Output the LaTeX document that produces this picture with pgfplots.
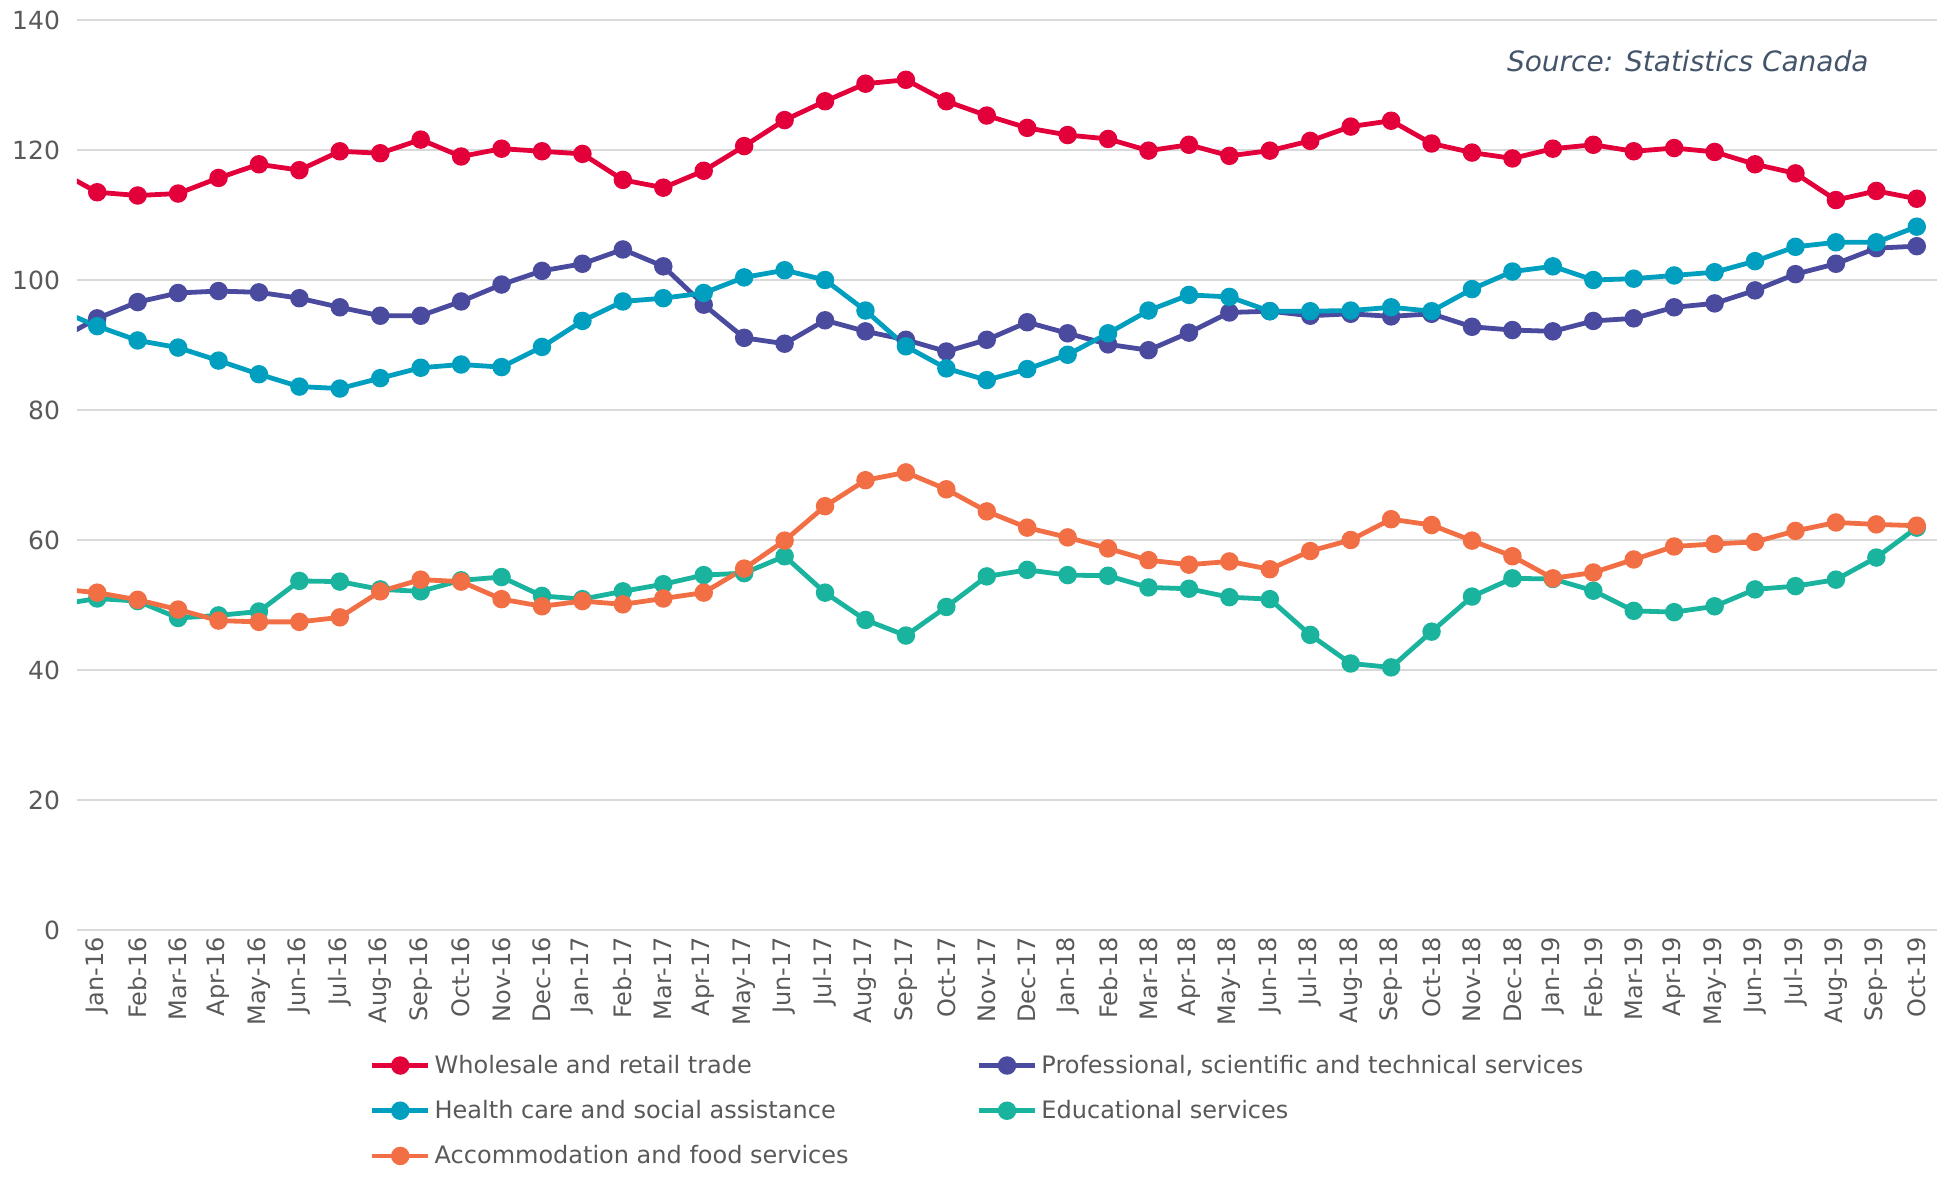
\documentclass[border=0pt]{standalone}
\usepackage{pgfplots}
\usepackage{pgfplotstable}
\pgfplotsset{compat=1.18}
\usepackage{fontspec}
\setmainfont{DejaVu Sans}
\definecolor{cRed}{HTML}{E3003A}
\definecolor{cPur}{HTML}{4A4A9F}
\definecolor{cHea}{HTML}{009FC0}
\definecolor{cEdu}{HTML}{1AB39E}
\definecolor{cAcc}{HTML}{F26F45}
\definecolor{cTxt}{HTML}{595959}
\definecolor{cSrc}{HTML}{44546A}
\definecolor{cGrid}{HTML}{D9D9D9}
\pgfplotstableread{
x r p h e a
-1 116.9 90.7 95.5 50.0 52.5
0 113.5 94.1 92.9 51.0 51.9
1 113.0 96.6 90.7 50.6 50.8
2 113.3 98.0 89.6 48.0 49.3
3 115.7 98.3 87.6 48.4 47.6
4 117.8 98.1 85.5 49.0 47.4
5 116.9 97.2 83.6 53.7 47.4
6 119.8 95.8 83.3 53.6 48.1
7 119.5 94.5 84.9 52.4 52.1
8 121.6 94.5 86.5 52.1 53.9
9 119.0 96.7 87.0 53.8 53.6
10 120.2 99.3 86.6 54.3 50.9
11 119.8 101.4 89.7 51.4 49.8
12 119.4 102.5 93.7 50.9 50.6
13 115.4 104.7 96.7 52.1 50.1
14 114.2 102.1 97.2 53.2 51.0
15 116.8 96.2 98.0 54.6 51.9
16 120.6 91.1 100.4 54.9 55.6
17 124.6 90.2 101.5 57.5 59.9
18 127.5 93.8 100.0 51.9 65.2
19 130.2 92.1 95.3 47.7 69.2
20 130.8 90.8 89.8 45.3 70.4
21 127.5 89.0 86.4 49.7 67.8
22 125.3 90.8 84.6 54.4 64.4
23 123.4 93.5 86.3 55.4 61.9
24 122.3 91.8 88.5 54.6 60.4
25 121.7 90.1 91.8 54.5 58.7
26 119.9 89.2 95.3 52.7 56.9
27 120.8 91.9 97.7 52.5 56.2
28 119.1 95.0 97.4 51.2 56.7
29 119.9 95.2 95.2 50.9 55.5
30 121.4 94.5 95.2 45.4 58.3
31 123.6 94.8 95.3 41.0 60.0
32 124.5 94.4 95.8 40.4 63.2
33 121.0 94.8 95.2 45.9 62.3
34 119.6 92.8 98.6 51.3 59.9
35 118.7 92.3 101.3 54.1 57.5
36 120.2 92.1 102.1 54.0 54.1
37 120.8 93.7 100.0 52.2 55.0
38 119.8 94.1 100.2 49.1 57.0
39 120.3 95.8 100.7 48.9 59.0
40 119.7 96.4 101.2 49.8 59.4
41 117.8 98.4 102.9 52.4 59.7
42 116.4 100.9 105.1 52.9 61.4
43 112.3 102.5 105.8 53.9 62.7
44 113.7 104.9 105.8 57.3 62.4
45 112.5 105.2 108.2 61.9 62.2
}\data
\begin{document}
\begin{tikzpicture}
\useasboundingbox (-38.5pt,-129pt) rectangle (936.5pt,465pt);
\begin{axis}[
  scale only axis,
  width=930pt, height=455pt,
  xmin=-0.5, xmax=45.5,
  ymin=0, ymax=140,
  ytick={0,20,...,140},
  xtick={0,...,45},
  xticklabels={Jan-16,Feb-16,Mar-16,Apr-16,May-16,Jun-16,Jul-16,Aug-16,Sep-16,Oct-16,Nov-16,Dec-16,
    Jan-17,Feb-17,Mar-17,Apr-17,May-17,Jun-17,Jul-17,Aug-17,Sep-17,Oct-17,Nov-17,Dec-17,
    Jan-18,Feb-18,Mar-18,Apr-18,May-18,Jun-18,Jul-18,Aug-18,Sep-18,Oct-18,Nov-18,Dec-18,
    Jan-19,Feb-19,Mar-19,Apr-19,May-19,Jun-19,Jul-19,Aug-19,Sep-19,Oct-19},
  xticklabel style={rotate=90, anchor=east, font=\fontsize{12}{14}\selectfont, text=cTxt},
  yticklabel style={font=\fontsize{12.5}{14}\selectfont, text=cTxt, xshift=-5pt},
  /pgf/number format/assume math mode=true,
  major tick length=0pt,
  axis line style={draw=none},
  ymajorgrids,
  grid style={cGrid, line width=1pt},
  legend columns=2,
  legend cell align=left,
  legend style={at={(0.154,-0.128)}, anchor=north west, draw=none, fill=none,
    font=\fontsize{12}{14}\selectfont, text=cTxt, row sep=8pt,
    /tikz/every odd column/.append style={column sep=0pt}},
  legend image code/.code={\draw[mark repeat=2,mark phase=2] plot coordinates {(0pt,0pt) (14pt,0pt) (28pt,0pt)};},
  every axis plot/.append style={line width=2.4pt, mark=*, mark size=3.4pt, mark options={solid}},
]
\addplot[cRed, mark options={fill=cRed}] table[x=x,y=r]{\data};
\addlegendentry{\makebox[269pt][l]{Wholesale and retail trade}}
\addplot[cPur, mark options={fill=cPur}] table[x=x,y=p]{\data};
\addlegendentry{Professional, scientific and technical services}
\addplot[cHea, mark options={fill=cHea}] table[x=x,y=h]{\data};
\addlegendentry{\makebox[269pt][l]{Health care and social assistance}}
\addplot[cEdu, mark options={fill=cEdu}] table[x=x,y=e]{\data};
\addlegendentry{Educational services}
\addplot[cAcc, mark options={fill=cAcc}] table[x=x,y=a]{\data};
\addlegendentry{\makebox[269pt][l]{Accommodation and food services}}
\node[anchor=east, text=cSrc, font=\fontsize{14}{16}\selectfont\itshape] at (rel axis cs:0.967,0.955) {Source: Statistics Canada};
\end{axis}
\end{tikzpicture}
\end{document}
